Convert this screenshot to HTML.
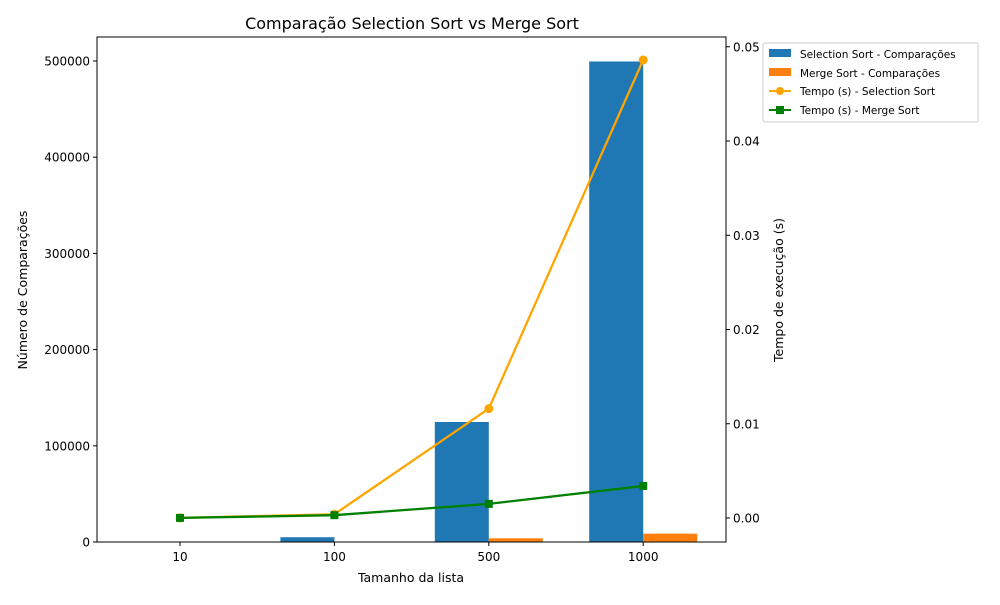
<!DOCTYPE html>
<html><head><meta charset="utf-8"><style>
body{margin:0;background:#fff;}
svg text{font-family:"DejaVu Sans","Liberation Sans",sans-serif;fill:#000;}
</style></head><body>
<svg id="chart" width="1000" height="600" xmlns="http://www.w3.org/2000/svg">
<rect width="1000" height="600" fill="#fff"/>
<text x="412" y="29" font-size="16" text-anchor="middle">Comparação Selection Sort vs Merge Sort</text>
<g id="bars"></g><g id="lines"></g><g id="axes"></g>
<text x="411" y="582" font-size="12.5" text-anchor="middle">Tamanho da lista</text>
<text transform="translate(27,290) rotate(-90)" font-size="12.5" text-anchor="middle">Número de Comparações</text>
<text transform="translate(783,290) rotate(-90)" font-size="12.5" text-anchor="middle">Tempo de execução (s)</text>
<g>
<rect x="763" y="43" width="215" height="79" fill="#fff" stroke="#ccc" rx="2"/>
<rect x="769" y="49" width="22" height="8" fill="#1f77b4"/>
<text x="800" y="58" font-size="10.5">Selection Sort - Comparações</text>
<rect x="769" y="68" width="22" height="8" fill="#ff7f0e"/>
<text x="800" y="77" font-size="10.5">Merge Sort - Comparações</text>
<line x1="769" y1="91" x2="791" y2="91" stroke="orange" stroke-width="2"/><circle cx="780" cy="91" r="4" fill="orange"/>
<text x="800" y="95" font-size="10.5">Tempo (s) - Selection Sort</text>
<line x1="769" y1="110" x2="791" y2="110" stroke="green" stroke-width="2"/><rect x="776" y="106" width="8" height="8" fill="green"/>
<text x="800" y="114" font-size="10.5">Tempo (s) - Merge Sort</text>
</g>
</svg>
<script>
const categories=["10","100","500","1000"];
const selComp=[45,4950,124750,499500];
const mergeComp=[19,540,3850,8700];
const selTime=[0.00001,0.0004,0.0116,0.0486];
const mergeTime=[0.00001,0.0003,0.0015,0.0034];
const leftTicks=[0,100000,200000,300000,400000,500000];
const rightTicks=[0,0.01,0.02,0.03,0.04,0.05];
const NS="http://www.w3.org/2000/svg";
const L=97,R=726,T=37,B=542;
const xc=i=>180+i*154.4;
const yL=v=>542-v*(481/500000);
const yR=v=>518-v*9425;
function mk(t,a,p){const e=document.createElementNS(NS,t);for(const k in a)e.setAttribute(k,a[k]);p.appendChild(e);return e;}
const bars=document.getElementById('bars'),lines=document.getElementById('lines'),axes=document.getElementById('axes');
const bw=54;
categories.forEach((c,i)=>{
 let r=mk('rect',{x:xc(i)-bw,y:yL(selComp[i]),width:bw,height:B-yL(selComp[i]),fill:'#1f77b4'},bars);
 
 
 let m=mk('rect',{x:xc(i),y:yL(mergeComp[i]),width:bw,height:B-yL(mergeComp[i]),fill:'#ff7f0e'},bars);
 
 
});
function series(vals,color,marker,name){
 const pl=mk('polyline',{points:vals.map((v,i)=>xc(i)+','+yR(v)).join(' '),fill:'none',stroke:color,'stroke-width':2.3},lines);
 
 
 vals.forEach((v,i)=>{
  let p=marker==='o'?mk('circle',{cx:xc(i),cy:yR(v),r:4.5,fill:color},lines):mk('rect',{x:xc(i)-4,y:yR(v)-4,width:8,height:8,fill:color},lines);
  
  
 });
}
series(selTime,'orange','o','selection-time');
series(mergeTime,'green','s','merge-time');
const f=mk('rect',{x:L,y:T,width:R-L,height:B-T,fill:'none',stroke:'#000','stroke-width':1},axes);


categories.forEach((c,i)=>{
 mk('line',{x1:xc(i),x2:xc(i),y1:B,y2:B+4,stroke:'#000'},axes);
 const t=mk('text',{x:xc(i),y:B+19,'font-size':12,'text-anchor':'middle'},axes);t.textContent=c;
 
 
});
leftTicks.forEach(v=>{
 mk('line',{x1:L-4,x2:L,y1:yL(v),y2:yL(v),stroke:'#000'},axes);
 const t=mk('text',{x:L-7,y:yL(v)+4.5,'font-size':12,'text-anchor':'end'},axes);t.textContent=v;
 
 
});
rightTicks.forEach(v=>{
 mk('line',{x1:R,x2:R+4,y1:yR(v),y2:yR(v),stroke:'#000'},axes);
 const t=mk('text',{x:R+7,y:yR(v)+4.5,'font-size':12},axes);t.textContent=v.toFixed(2);
 
 
});
</script>
</body></html>
